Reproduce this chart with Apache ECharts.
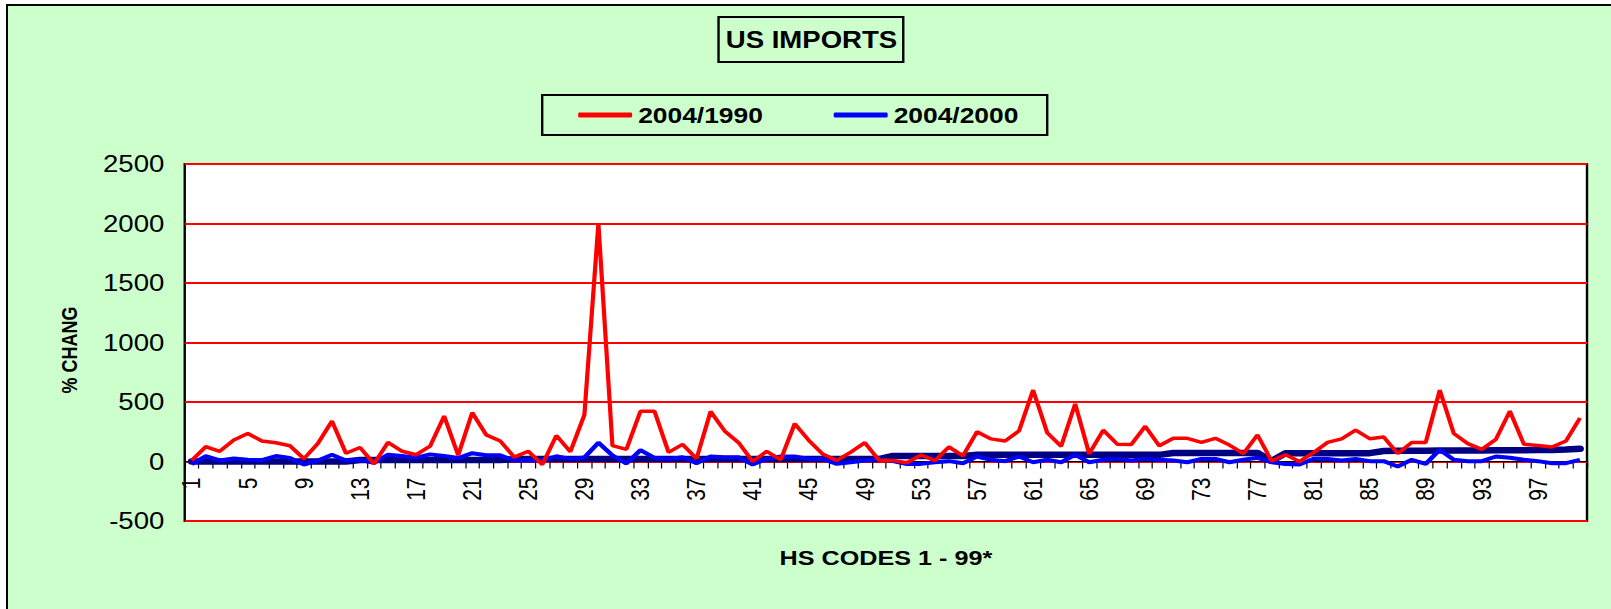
<!DOCTYPE html>
<html>
<head>
<meta charset="utf-8">
<script src="https://cdn.jsdelivr.net/npm/echarts@6/dist/echarts.min.js"></script>
<style>
html,body{margin:0;padding:0;background:#ffffff;overflow:hidden;}
#frame{position:absolute;left:6px;top:4px;width:1800px;height:800px;background:#CCFFCC;border-left:2px solid #000;border-top:2px solid #000;}
#chart{position:absolute;left:0;top:0;width:1343px;height:609px;transform:scaleX(1.199553);transform-origin:0 0;}
</style>
</head>
<body>
<div id="frame"></div>
<div id="chart"></div>
<script>
const categories = ['1','2','3','4','5','6','7','8','9','10','11','12','13','14','15','16','17','18','19','20',
'21','22','23','24','25','26','27','28','29','30','31','32','33','34','35','36','37','38','39','40',
'41','42','43','44','45','46','47','48','49','50','51','52','53','54','55','56','57','58','59','60',
'61','62','63','64','65','66','67','68','69','70','71','72','73','74','75','76','77','78','79','80',
'81','82','83','84','85','86','87','88','89','90','91','92','93','94','95','96','97','98','99','100'];

const red1990 = [9,124,86,181,236,172,158,132,23,152,
339,69,118,-20,161,86,57,129,382,52,
411,224,172,37,86,-26,218,82,392,2000,
133,102,423,423,77,144,24,420,257,158,
0,85,15,318,178,62,9,79,158,13,
8,-10,55,7,122,48,250,190,172,258,
600,243,128,484,65,263,146,143,296,132,
195,195,161,195,138,66,224,5,57,0,
75,161,190,264,192,206,67,160,160,600,
235,150,102,186,423,145,134,122,172,366];

const blue2000 = [-23,46,9,26,14,11,46,29,-26,9,
57,9,14,-11,57,46,32,60,46,29,
70,52,52,9,9,9,44,22,34,158,
52,-17,96,30,22,36,-14,42,36,36,
-25,22,42,42,22,22,-20,-6,8,22,
3,-22,-20,-6,3,-14,42,14,3,42,
-6,14,-6,56,-6,14,22,8,22,14,
8,-6,22,22,-6,14,31,-6,-22,-25,
22,22,8,22,3,3,-42,14,-20,98,
14,3,3,42,31,14,3,-14,-14,14];

const navyLine = [0,0,0,0,0,0,0,0,0,0,
0,0,12,12,12,12,12,12,12,12,
12,12,12,20,20,20,20,20,20,20,
20,20,20,20,20,20,20,20,20,20,
20,20,20,20,20,20,20,20,20,20,
47,47,47,47,47,47,56,56,56,56,
56,56,56,56,56,56,56,56,56,56,
72,72,72,72,72,72,72,3,70,70,
70,70,70,70,70,88,90,91,91,92,
92,93,93,94,94,95,96,97,101,107];

const yTicks = [-500,0,500,1000,1500,2000,2500];
const seriesNames = ['2004/1990','2004/2000'];
const titleText = 'US IMPORTS';
const xAxisName = 'HS CODES 1 - 99*';
const yAxisName = '% CHANG';

const FONT = 'Liberation Sans, Arial, sans-serif';
const yMin = yTicks[0], yMax = yTicks[yTicks.length-1];
const plotTop = 164, plotBottom = 88, plotH = 609 - plotTop - plotBottom;
const zeroH = plotH * (yMax - 0) / (yMax - yMin);

const chart = echarts.init(document.getElementById('chart'), null, {renderer:'svg'});
chart.setOption({
  animation:false,
  backgroundColor:'transparent',
  title:{
    text:titleText, left:599, top:17, padding:[11,5,11,6],
    borderColor:'#000', borderWidth:2,
    textStyle:{fontSize:23, fontWeight:'bold', color:'#000', fontFamily:FONT}
  },
  legend:{
    data:seriesNames, left:452, top:95, orient:'horizontal',
    padding:[9,24,9,30], itemWidth:45, itemHeight:5, itemGap:59, icon:'roundRect',
    borderColor:'#000', borderWidth:2,
    textStyle:{fontSize:22, fontWeight:'bold', color:'#000', fontFamily:FONT}
  },
  grid:[
    {left:154, right:20, top:plotTop, bottom:plotBottom, show:true, backgroundColor:'#ffffff',
     borderColor:'#000', borderWidth:2, containLabel:false, outerBoundsMode:'none'},
    {left:154, right:20, top:plotTop, height:zeroH, show:false, containLabel:false, outerBoundsMode:'none'}
  ],
  graphic:[{
    type:'text', x:58, y:350, rotation:Math.PI/2,
    style:{text:yAxisName, fontSize:18, fontWeight:'bold', fontFamily:FONT, fill:'#000',
      align:'center', verticalAlign:'middle', textAlign:'center', textVerticalAlign:'middle'}
  }],
  xAxis:[
    {type:'category', gridIndex:0, data:categories, boundaryGap:true, show:false},
    {
      type:'category', gridIndex:1, data:categories, boundaryGap:true, position:'bottom',
      name:xAxisName, nameLocation:'middle', nameGap:86,
      nameTextStyle:{fontSize:21, fontWeight:'bold', color:'#000', fontFamily:FONT},
      axisLine:{show:true, onZero:false, lineStyle:{color:'#000', width:1}},
      axisTick:{show:true, interval:0, length:7, lineStyle:{color:'#000', width:1}},
      axisLabel:{interval:3, rotate:90, fontSize:21, color:'#000', margin:16, fontFamily:FONT},
      splitLine:{show:false}
    }
  ],
  yAxis:[
    {
      type:'value', gridIndex:0, min:yMin, max:yMax, interval:yTicks[1]-yTicks[0],
      axisLine:{show:false}, axisTick:{show:false},
      axisLabel:{fontSize:23, color:'#000', margin:17, fontFamily:FONT, formatter:function(v){return String(v);}},
      splitLine:{show:true, lineStyle:{color:'#FF0000', width:2}}
    },
    {type:'value', gridIndex:1, min:0, max:yMax, show:false, splitLine:{show:false}}
  ],
  series:[
    {name:'trend', type:'line', xAxisIndex:0, yAxisIndex:0, data:navyLine, symbol:'none', lineStyle:{color:'#000080', width:6.5, cap:'round'}, itemStyle:{color:'#000080'}},
    {name:seriesNames[1], type:'line', xAxisIndex:0, yAxisIndex:0, data:blue2000, symbol:'none', lineStyle:{color:'#0000FF', width:4}, itemStyle:{color:'#0000FF'}},
    {name:seriesNames[0], type:'line', xAxisIndex:0, yAxisIndex:0, data:red1990, symbol:'none', lineStyle:{color:'#FF0000', width:3.5}, itemStyle:{color:'#FF0000'}}
  ]
});
</script>
</body>
</html>
